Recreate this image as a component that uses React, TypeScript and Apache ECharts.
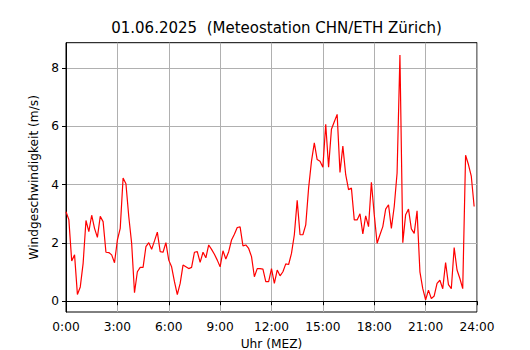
import React, { useEffect, useRef } from "react";
import * as echarts from "echarts";

const titleText = "01.06.2025  (Meteostation CHN/ETH Zürich)";
const xAxisName = "Uhr (MEZ)";
const yAxisName = "Windgeschwindigkeit (m/s)";
const xTicks = [0, 3, 6, 9, 12, 15, 18, 21, 24];
const yTicks = [0, 2, 4, 6, 8];
const stepMinutes = 10;

// wind speed (m/s), 10-minute values from 0:00 to 23:50
const windSpeed = [
  3.07, 2.8, 1.38, 1.59, 0.23, 0.49, 1.3, 2.77, 2.39, 2.95, 2.5, 2.19,
  2.91, 2.73, 1.68, 1.67, 1.59, 1.32, 2.1, 2.5, 4.23, 4.03, 2.9, 1.99,
  0.29, 1.01, 1.16, 1.16, 1.87, 2.01, 1.78, 2.07, 2.37, 1.7, 1.68, 2.01,
  1.41, 1.18, 0.67, 0.23, 0.61, 1.24, 1.18, 1.12, 1.16, 1.68, 1.7, 1.33,
  1.68, 1.49, 1.93, 1.78, 1.61, 1.41, 1.18, 1.73, 1.45, 1.7, 2.1, 2.3,
  2.53, 2.55, 1.9, 1.93, 1.81, 1.53, 0.84, 1.12, 1.12, 1.1, 0.67, 0.67,
  1.12, 0.61, 1.07, 0.87, 1.01, 1.28, 1.26, 1.64, 2.28, 3.46, 2.28, 2.28,
  2.62, 3.88, 4.8, 5.43, 4.86, 4.8, 4.6, 6.07, 4.6, 5.9, 6.16, 6.41,
  4.42, 5.32, 4.34, 3.83, 3.88, 2.79, 2.79, 3.0, 2.31, 2.93, 2.56, 4.08,
  2.97, 1.99, 2.28, 2.56, 3.16, 3.31, 2.5, 3.25, 4.4, 8.45, 2.01, 2.97,
  3.16, 2.48, 2.33, 3.1, 1.01, 0.43, 0.05, 0.38, 0.09, 0.18, 0.61, 0.72,
  0.43, 1.33, 0.57, 0.43, 1.84, 1.07, 0.78, 0.43, 5.01, 4.69, 4.29, 3.25,
];

const FONT = "DejaVu Sans";

export default function App() {
  const ref = useRef<HTMLDivElement>(null);
  useEffect(() => {
    if (!ref.current) return;
    const chart = echarts.init(ref.current, undefined, { renderer: "svg" });
    const data = windSpeed.map((v, i) => [(i * stepMinutes) / 60, v]);
    const dmin = Math.min(...windSpeed);
    const dmax = Math.max(...windSpeed);
    const pad = (dmax - dmin) * 0.05;
    chart.setOption({
      animation: false,
      backgroundColor: "#ffffff",
      title: {
        text: titleText,
        left: 271.5,
        textAlign: "center",
        top: 15,
        textStyle: { fontFamily: FONT, fontSize: 15, fontWeight: "normal", color: "#000" },
      },
      grid: {
        left: 66,
        right: 53,
        top: 42.7,
        bottom: 38,
        outerBoundsMode: "none",
        containLabel: false,
        show: true,
        borderColor: "#000",
        borderWidth: 1,
        backgroundColor: "transparent",
      },
      xAxis: {
        type: "value",
        min: 0,
        max: 24,
        interval: 3,
        name: xAxisName,
        nameLocation: "middle",
        nameGap: 25,
        nameTextStyle: { fontFamily: FONT, fontSize: 12.2, color: "#000" },
        axisLine: { show: true, lineStyle: { color: "#000", width: 1 } },
        axisTick: { show: true, length: 4, lineStyle: { color: "#000", width: 1 } },
        axisLabel: {
          fontFamily: FONT,
          fontSize: 12.2,
          color: "#000",
          margin: 9,
          formatter: (v: number) => (xTicks.includes(v) ? `${v}:00` : ""),
        },
        splitLine: { show: true, lineStyle: { color: "#b0b0b0", width: 1 } },
      },
      yAxis: {
        type: "value",
        min: dmin - pad,
        max: dmax + pad,
        name: yAxisName,
        nameLocation: "middle",
        nameGap: 24,
        nameTextStyle: { fontFamily: FONT, fontSize: 12.2, color: "#000" },
        axisLine: { show: true, lineStyle: { color: "#000", width: 1 } },
        axisTick: { show: true, length: 4, customValues: yTicks, lineStyle: { color: "#000", width: 1 } },
        axisLabel: {
          fontFamily: FONT,
          fontSize: 12.2,
          color: "#000",
          margin: 7,
          customValues: yTicks,
        },
        splitLine: { show: true, customValues: yTicks, lineStyle: { color: "#b0b0b0", width: 1 } },
      },
      series: [
        {
          type: "line",
          data,
          showSymbol: false,
          symbol: "none",
          lineStyle: { color: "#ff0000", width: 1.2 },
          itemStyle: { color: "#ff0000" },
        },
      ],
    });
    return () => chart.dispose();
  }, []);
  return <div ref={ref} style={{ width: 530, height: 350, position: "absolute", left: 0, top: 0 }} />;
}
